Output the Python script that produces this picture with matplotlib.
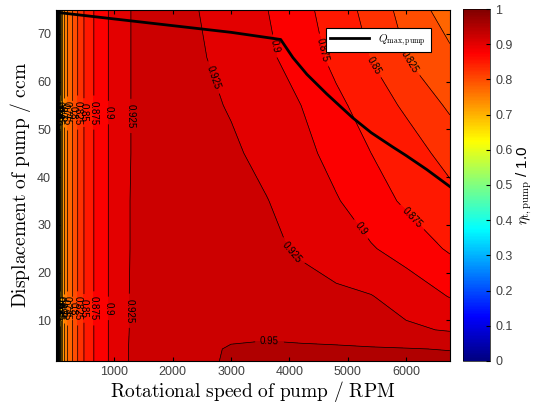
import numpy as np
import matplotlib
matplotlib.use('Agg')
import matplotlib.pyplot as plt
from matplotlib.colors import Normalize, LinearSegmentedColormap
from matplotlib.cm import ScalarMappable

plt.rcParams['font.family'] = ['Liberation Sans', 'DejaVu Sans']
plt.rcParams['mathtext.fontset'] = 'cm'

# grid
speed = [0, 20, 40, 70, 110, 170, 250, 350, 500, 700, 950,
         1300, 1800, 2400, 3000, 3600, 4200, 4800, 5400, 6000, 6750]
disp = [1.5, 4, 8, 15, 25, 35, 45, 55, 65, 75]

# efficiency, one row per displacement
eta = [
    [0.0, 0.35, 0.55, 0.67, 0.73, 0.77, 0.79, 0.82, 0.855, 0.882, 0.905,
     0.929, 0.940, 0.946, 0.952, 0.956, 0.957, 0.958, 0.958, 0.957, 0.956],
    [0.0, 0.35, 0.55, 0.67, 0.73, 0.77, 0.79, 0.82, 0.855, 0.882, 0.905,
     0.929, 0.942, 0.947, 0.951, 0.953, 0.953, 0.953, 0.952, 0.951, 0.949],
    [0.0, 0.35, 0.55, 0.67, 0.73, 0.77, 0.79, 0.82, 0.855, 0.882, 0.905,
     0.928, 0.944, 0.946, 0.947, 0.946, 0.943, 0.939, 0.934, 0.929, 0.923],
    [0.0, 0.35, 0.55, 0.67, 0.73, 0.77, 0.79, 0.82, 0.855, 0.882, 0.905,
     0.928, 0.943, 0.944, 0.942, 0.938, 0.934, 0.930, 0.926, 0.915, 0.899],
    [0.0, 0.35, 0.55, 0.67, 0.73, 0.77, 0.79, 0.82, 0.855, 0.882, 0.905,
     0.927, 0.941, 0.940, 0.936, 0.930, 0.922, 0.912, 0.902, 0.890, 0.872],
    [0.0, 0.35, 0.55, 0.67, 0.73, 0.77, 0.79, 0.82, 0.855, 0.882, 0.905,
     0.927, 0.940, 0.937, 0.933, 0.926, 0.914, 0.902, 0.886, 0.871, 0.858],
    [0.0, 0.35, 0.55, 0.67, 0.73, 0.77, 0.79, 0.82, 0.855, 0.882, 0.905,
     0.926, 0.939, 0.935, 0.929, 0.918, 0.908, 0.891, 0.875, 0.862, 0.841],
    [0.0, 0.35, 0.55, 0.67, 0.73, 0.77, 0.79, 0.82, 0.855, 0.882, 0.905,
     0.926, 0.938, 0.932, 0.923, 0.912, 0.900, 0.881, 0.863, 0.846, 0.821],
    [0.0, 0.35, 0.55, 0.67, 0.73, 0.77, 0.79, 0.82, 0.855, 0.882, 0.905,
     0.926, 0.937, 0.929, 0.916, 0.905, 0.889, 0.868, 0.849, 0.825, 0.805],
    [0.0, 0.35, 0.55, 0.67, 0.73, 0.77, 0.79, 0.82, 0.855, 0.882, 0.905,
     0.926, 0.935, 0.926, 0.913, 0.901, 0.883, 0.862, 0.842, 0.815, 0.788],
]

# maximum pump flow line
qmax_speed = [0, 1000, 2000, 3000, 3850, 4060, 4300, 4640, 5085, 5400, 5770, 6000, 6350, 6750]
qmax_disp = [74.5, 73.1, 71.7, 70.3, 68.8, 65.0, 61.5, 57.4, 52.4, 49.3, 46.3, 44.5, 41.6, 38.0]

cbar_ticks = [0, 0.1, 0.2, 0.3, 0.4, 0.5, 0.6, 0.7, 0.8, 0.9, 1]
cbar_ticklabels = ['0', '0.1', '0.2', '0.3', '0.4', '0.5', '0.6', '0.7', '0.8', '0.9', '1']

# matlab style jet
jet = LinearSegmentedColormap.from_list('mjet', [
    (0.0, (0, 0, 0.5)), (0.125, (0, 0, 1)), (0.375, (0, 1, 1)),
    (0.625, (1, 1, 0)), (0.875, (1, 0, 0)), (1.0, (0.5, 0, 0))], 256)
levels = np.linspace(0, 1, 41)
norm = Normalize(vmin=0, vmax=1)
band_colors = [jet(norm(l)) for l in levels[:-1]]

fig = plt.figure(figsize=(5.44, 4.12), dpi=100)
ax = fig.add_axes([0.103, 0.124, 0.724, 0.852])
cax = fig.add_axes([0.851, 0.124, 0.050, 0.854])

X, Y = np.meshgrid(speed, disp)
Z = np.array(eta)
ax.contourf(X, Y, Z, levels=levels, colors=band_colors)
cs = ax.contour(X, Y, Z, levels=levels, colors='k', linewidths=0.5)

fmt = lambda v: '{:g}'.format(round(v, 3))
main_pos = [(3780, 67.5), (4520, 66.4), (5370, 62.9), (6010, 63.7), (2690, 60.8),
            (4060, 24.6), (5150, 28.4), (6010, 30.5), (3660, 5.8),
            (1270, 52.8), (1270, 12.0)]
ax.clabel(cs, fontsize=7, fmt=fmt, inline=True, manual=main_pos)
low_n = [6, 14, 25, 38, 55, 75, 95, 130, 190, 280, 370, 480, 640, 890]
crowd = [(n, 53.5) for n in low_n] + [(n, 12.5) for n in low_n]
ax.clabel(cs, fontsize=7, fmt=fmt, inline=True, manual=crowd)

ax.plot(qmax_speed, qmax_disp, 'k-', lw=2, label=r'$Q_{\mathrm{max,pump}}$')
leg = ax.legend(loc='upper right', bbox_to_anchor=(0.965, 0.965), fontsize=8,
                handlelength=3.5, fancybox=False, framealpha=1, borderpad=0.4)
leg.get_frame().set_edgecolor('k')
leg.get_frame().set_linewidth(0.8)

ax.set_xlim(0, 6750)
ax.set_ylim(1.5, 75)
ax.set_xticks([1000, 2000, 3000, 4000, 5000, 6000])
ax.set_yticks([10, 20, 30, 40, 50, 60, 70])
ax.tick_params(direction='in', top=True, right=True, labelsize=9, labelcolor='0.25', length=3)
ax.set_xlabel(r'$\mathrm{Rotational\ speed\ of\ pump\ /\ RPM}$', fontsize=14, labelpad=1)
ax.set_ylabel(r'$\mathrm{Displacement\ of\ pump\ /\ ccm}$', fontsize=14, labelpad=3)

cb = fig.colorbar(ScalarMappable(norm=norm, cmap=jet), cax=cax, ticks=cbar_ticks)
cb.ax.set_yticklabels(cbar_ticklabels)
cb.ax.tick_params(direction='in', labelsize=9, labelcolor='0.25', length=3)
cb.outline.set_linewidth(0.5)
cb.set_label(r'$\eta_{\mathrm{t,pump}}$ / 1.0', fontsize=11, labelpad=2)

fig.savefig('out.png', dpi=100)
